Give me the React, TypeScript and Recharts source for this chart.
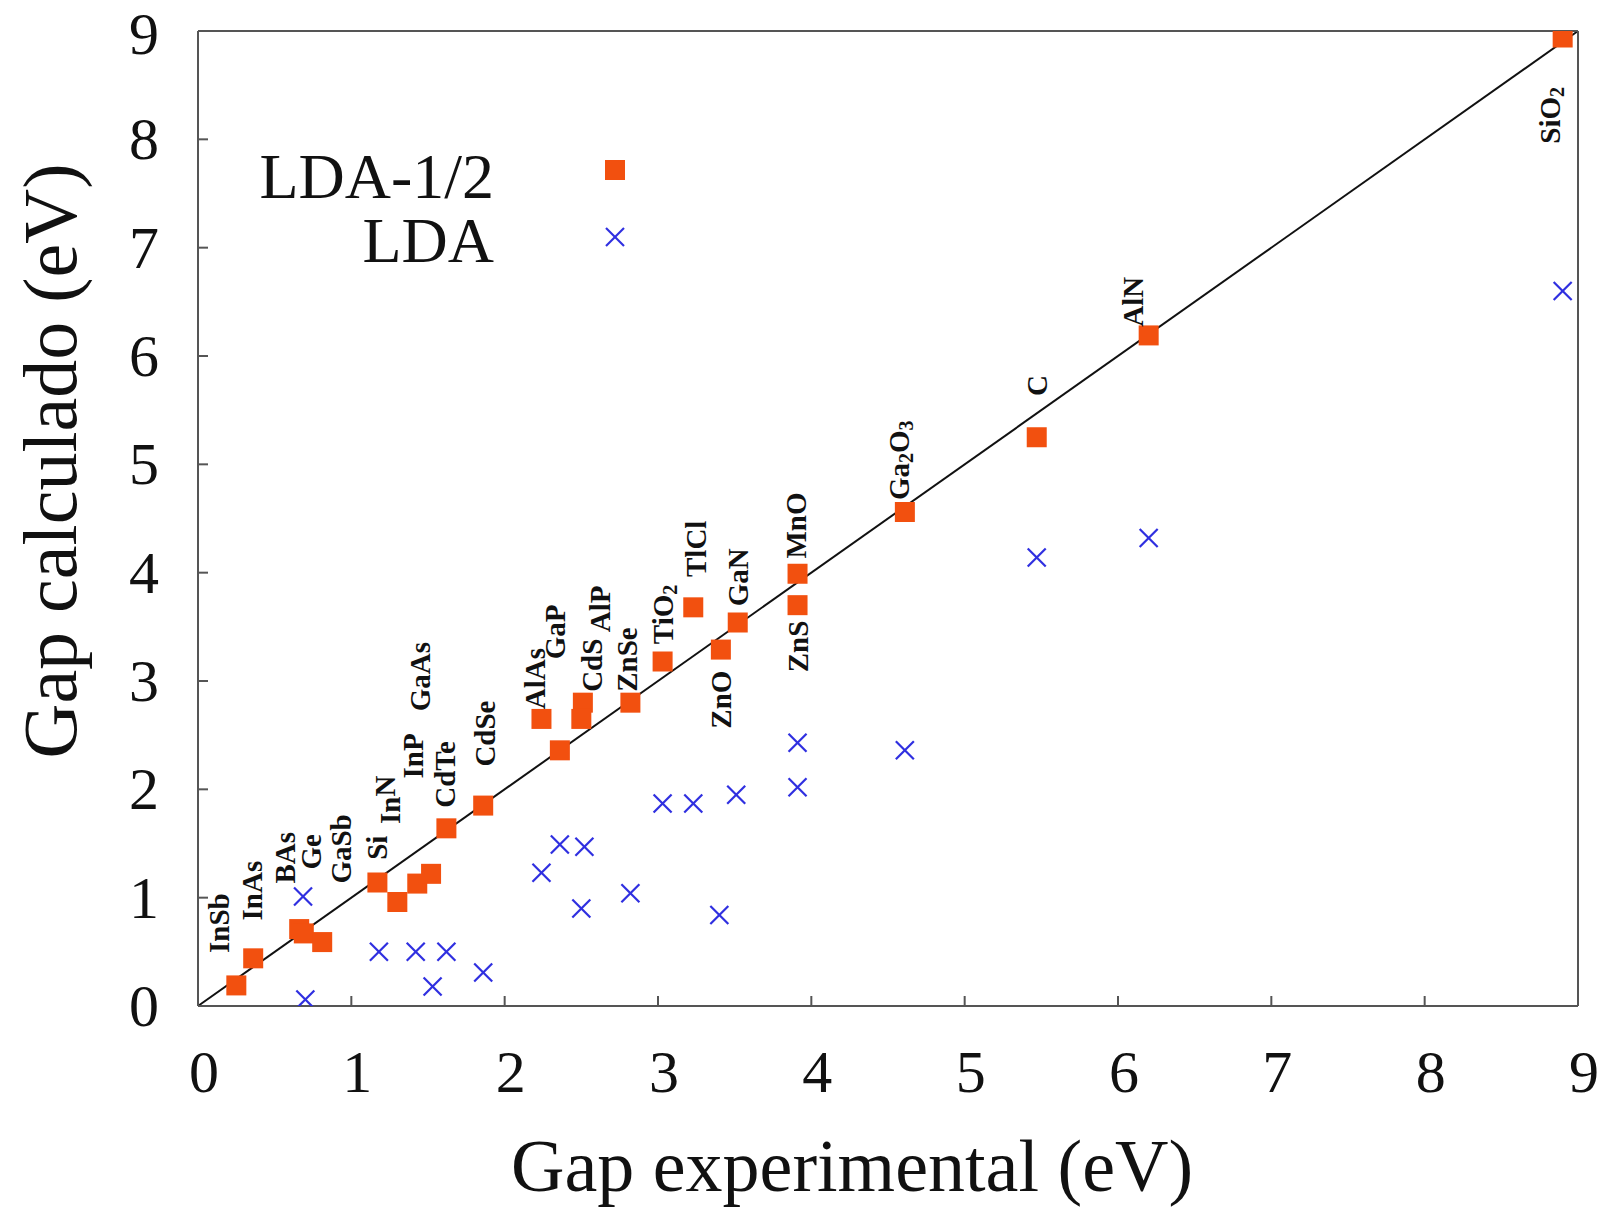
import { ReferenceLine, Scatter, ScatterChart, XAxis, YAxis } from "recharts";

const ticks = [0, 1, 2, 3, 4, 5, 6, 7, 8, 9];

// LDA-1/2: gap experimental x gap calculado (eV)
const halfNames = [
  "InSb", "InAs", "BAs", "Ge", "GaSb", "Si", "InN", "GaAs", "InP", "CdTe", "CdSe", "AlAs", "GaP",
  "CdS", "AlP", "ZnSe", "TiO2", "TlCl", "ZnO", "GaN", "MnO", "ZnS", "Ga2O3", "C", "AlN", "SiO2",
];
const halfExp = [
  0.25, 0.36, 0.66, 0.69, 0.81, 1.17, 1.3, 1.43, 1.52, 1.62, 1.86, 2.24, 2.36,
  2.51, 2.5, 2.82, 3.03, 3.23, 3.41, 3.52, 3.91, 3.91, 4.61, 5.47, 6.2, 8.9,
];
const halfCalc = [
  0.19, 0.44, 0.71, 0.67, 0.59, 1.14, 0.96, 1.13, 1.22, 1.64, 1.85, 2.65, 2.36,
  2.8, 2.65, 2.8, 3.18, 3.68, 3.29, 3.54, 3.99, 3.7, 4.56, 5.25, 6.19, 8.94,
];

// LDA puro
const ldaExp = [
  0.685, 0.7, 1.18, 1.42, 1.62, 1.53, 1.86, 2.24, 2.36, 2.52, 2.5, 2.82, 3.03, 3.23, 3.51,
  3.91, 3.91, 4.61, 3.4, 5.47, 6.2, 8.9,
];
const ldaCalc = [
  1.01, 0.06, 0.5, 0.5, 0.5, 0.18, 0.31, 1.23, 1.49, 1.47, 0.9, 1.04, 1.87, 1.87, 1.95,
  2.43, 2.02, 2.36, 0.84, 4.14, 4.32, 6.6,
];

// onde começa cada rótulo (texto vertical), em eV
const labelX = [
  0.14, 0.35, 0.57, 0.74, 0.93, 1.17, 1.25, 1.45, 1.4, 1.61, 1.87, 2.2, 2.33,
  2.57, 2.62, 2.8, 3.03, 3.25, 3.41, 3.52, 3.9, 3.91, 4.57, 5.47, 6.1, 8.82,
];
const labelY = [
  0.49, 0.79, 1.13, 1.26, 1.13, 1.35, 1.68, 2.72, 2.1, 1.83, 2.21, 2.74, 3.2,
  2.9, 3.45, 2.9, 3.34, 3.96, 2.56, 3.69, 4.13, 3.08, 4.67, 5.63, 6.27, 7.96,
];

const halfData = halfNames.map((name, i) => ({ name, x: halfExp[i], y: halfCalc[i] }));
const ldaData = ldaExp.map((x, i) => ({ x, y: ldaCalc[i] }));
const labelData = halfNames.map((name, i) => ({ name, x: labelX[i], y: labelY[i] }));

const ORANGE = "#f2500f";
const BLUE = "#2f2fe0";
const SERIF = "'Liberation Serif', 'DejaVu Serif', serif";

const Square = (p: any) => <rect x={p.cx - 10} y={p.cy - 10} width={20} height={20} fill={ORANGE} />;

const Cross = (p: any) => (
  <g stroke={BLUE} strokeWidth={2.2}>
    <line x1={p.cx - 9} y1={p.cy - 9} x2={p.cx + 9} y2={p.cy + 9} />
    <line x1={p.cx - 9} y1={p.cy + 9} x2={p.cx + 9} y2={p.cy - 9} />
  </g>
);

// dígitos viram subscrito (TiO2, Ga2O3, SiO2); o N de InN sai levantado como no original
function formula(name: string) {
  if (name === "InN") {
    return [
      <tspan key={0}>In</tspan>,
      <tspan key={1} dy={-5}>N</tspan>,
    ];
  }
  const parts = name.split(/(\d)/).filter(Boolean);
  let sub = false;
  return parts.map((s, i) => {
    const d = /\d/.test(s);
    const dy = d && !sub ? 7 : !d && sub ? -7 : 0;
    sub = d;
    return (
      <tspan key={i} dy={dy} fontSize={d ? 20 : undefined}>
        {s}
      </tspan>
    );
  });
}

const Tag = (p: any) => (
  <text
    x={p.cx}
    y={p.cy}
    transform={`rotate(-90 ${p.cx} ${p.cy})`}
    dominantBaseline="central"
    fontFamily={SERIF}
    fontWeight="bold"
    fontSize={29}
    fill="#111"
  >
    {formula(p.payload.name)}
  </text>
);

const XTick = ({ x, payload }: any) => (
  <text x={x + 6} y={1072} textAnchor="middle" dominantBaseline="central" fontFamily={SERIF} fontSize={60} fill="#111">
    {payload.value}
  </text>
);
const YTick = ({ y, payload }: any) => (
  <text
    x={144}
    y={Math.max(y, 34)}
    textAnchor="middle"
    dominantBaseline="central"
    fontFamily={SERIF}
    fontSize={60}
    fill="#111"
  >
    {payload.value}
  </text>
);

const frame = { stroke: "#555", strokeWidth: 2 };

export default function App() {
  return (
    <div style={{ position: "absolute", left: 0, top: 0, width: 1615, height: 1212, background: "#fff" }}>
      <ScatterChart width={1615} height={1212} margin={{ top: 30, right: 36, bottom: 0, left: 0 }}>
        <XAxis
          type="number"
          dataKey="x"
          domain={[0, 9]}
          ticks={ticks}
          allowDataOverflow
          height={206}
          axisLine={frame}
          tickLine={frame}
          tickSize={-10}
          tick={<XTick />}
          label={{
            content: () => (
              <text x={852} y={1166} textAnchor="middle" dominantBaseline="central" fontFamily={SERIF} fontSize={74} fill="#111">
                Gap experimental (eV)
              </text>
            ),
          }}
        />
        <XAxis
          xAxisId="top"
          orientation="top"
          type="number"
          domain={[0, 9]}
          ticks={ticks}
          allowDataOverflow
          height={1}
          axisLine={frame}
          tickLine={frame}
          tickSize={-10}
          tick={false}
        />
        <YAxis
          type="number"
          dataKey="y"
          domain={[0, 9]}
          ticks={ticks}
          allowDataOverflow
          width={198}
          axisLine={frame}
          tickLine={frame}
          tickSize={-10}
          tick={<YTick />}
          label={{
            content: () => (
              <text
                x={50}
                y={461}
                transform="rotate(-90 50 461)"
                textAnchor="middle"
                dominantBaseline="central"
                fontFamily={SERIF}
                fontSize={76}
                fill="#111"
              >
                Gap calculado (eV)
              </text>
            ),
          }}
        />
        <YAxis
          yAxisId="right"
          orientation="right"
          type="number"
          domain={[0, 9]}
          ticks={ticks}
          allowDataOverflow
          width={1}
          axisLine={frame}
          tickLine={frame}
          tickSize={-10}
          tick={false}
        />
        <Scatter name="LDA" data={ldaData} shape={<Cross />} isAnimationActive={false} />
        <Scatter name="LDA-1/2" data={halfData} shape={<Square />} isAnimationActive={false} />
        <Scatter name="rotulos" data={labelData} shape={<Tag />} isAnimationActive={false} />
        <ReferenceLine
          segment={[
            { x: 0, y: 0 },
            { x: 9, y: 9 },
          ]}
          stroke="#111"
          strokeWidth={2}
        />
      </ScatterChart>
      {/* legenda */}
      <div style={{ position: "absolute", left: 0, top: 0, pointerEvents: "none" }}>
        <svg width={700} height={300}>
          <text x={494} y={176} textAnchor="end" dominantBaseline="central" fontFamily={SERIF} fontSize={64} fill="#111">
            LDA-1/2
          </text>
          <text x={494} y={240} textAnchor="end" dominantBaseline="central" fontFamily={SERIF} fontSize={64} fill="#111">
            LDA
          </text>
          <Square cx={615} cy={170} />
          <Cross cx={615} cy={237} />
        </svg>
      </div>
    </div>
  );
}
